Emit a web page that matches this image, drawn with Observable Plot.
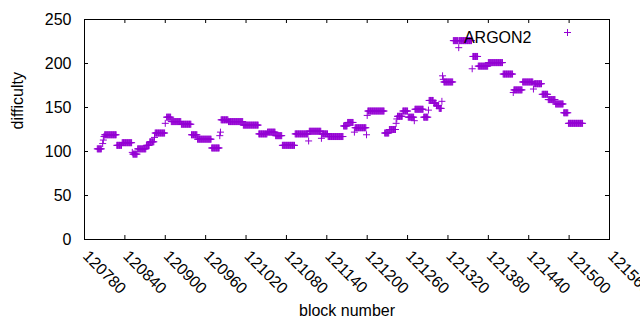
<!DOCTYPE html>
<html><head><meta charset="utf-8">
<script src="https://cdn.jsdelivr.net/npm/d3@7"></script>
<script src="https://cdn.jsdelivr.net/npm/@observablehq/plot@0.6"></script>
<style>html,body{margin:0;padding:0;background:#fff;}</style>
</head><body><div id="chart"></div>
<script>
// runs of constant difficulty: first block, last block, value
const runStart = [120799,120807,120808,120809,120810,120828,120836,120851,120852,120859,120872,120877,120884,120885,120900,120902,120909,120924,120939,120948,120969,120981,120982,120983,120994,121016,121039,121052,121064,121074,121093,121113,121114,121132,121133,121142,121165,121171,121181,121182,121199,121200,121201,121226,121233,121243,121244,121245,121253,121261,121270,121271,121284,121291,121292,121299,121303,121307,121311,121312,121313,121314,121328,121336,121337,121356,121357,121365,121380,121402,121417,121418,121431,121447,121448,121460,121469,121480,121492,121499];
const runEnd   = [120805,120807,120808,120809,120827,120835,120850,120851,120858,120871,120876,120883,120884,120899,120900,120908,120923,120938,120947,120968,120980,120981,120982,120993,121015,121038,121051,121063,121073,121092,121112,121113,121131,121132,121141,121164,121170,121179,121181,121198,121199,121200,121225,121232,121242,121243,121244,121252,121260,121269,121270,121283,121290,121291,121298,121302,121306,121310,121311,121312,121313,121327,121335,121336,121355,121356,121364,121379,121401,121416,121417,121430,121446,121447,121459,121468,121479,121491,121498,121520];
const runValue = [103,109,113,117,119,107,110,99,97,103,107,111,116,121,132,139,134,131,119,114,104,118,122,136,134,130,120,122,118,107,120,112,123,115,120,117,129,133,122,127,119,141,146,121,125,132,137,140,146,139,135,148,139,147,158,155,152,149,157,186,182,179,226,218,226,194,208,197,201,188,167,170,179,171,177,165,159,154,144,132];

const xTicks = [120780,120840,120900,120960,121020,121080,121140,121200,121260,121320,121380,121440,121500,121560];
const yTicks = [0,50,100,150,200,250];
const seriesName = "ARGON2";
const xLabel = "block number";
const yLabel = "difficulty";
const color = "#9400D3";

const data = [];
runStart.forEach((s, i) => {
  for (let b = s; b <= runEnd[i]; b++) data.push({block: b, difficulty: runValue[i]});
});

const thinPlus = {
  draw(ctx, size) {
    const h = Math.sqrt(size / Math.PI);
    ctx.moveTo(-h, 0); ctx.lineTo(h, 0);
    ctx.moveTo(0, -h); ctx.lineTo(0, h);
  }
};

const W = 640, H = 330, mL = 84, mR = 31, mT = 19, mB = 91;
const pw = W - mL - mR, ph = H - mT - mB, tk = 4;

const chart = Plot.plot({
  width: W, height: H,
  marginLeft: mL, marginRight: mR, marginTop: mT, marginBottom: mB,
  style: {fontFamily: "'Liberation Sans', Arial, sans-serif", fontSize: "16px", background: "#fff", color: "#000"},
  x: {domain: [120780, 121560], axis: null},
  y: {domain: [0, 250], axis: null},
  marks: [
    Plot.frame({stroke: "black", strokeWidth: 1}),
    Plot.tickX(xTicks, {x: d => d, insetTop: ph - tk, stroke: "black"}),
    Plot.tickX(xTicks, {x: d => d, insetBottom: ph - tk, stroke: "black"}),
    Plot.tickY(yTicks, {y: d => d, insetRight: pw - tk, stroke: "black"}),
    Plot.tickY(yTicks, {y: d => d, insetLeft: pw - tk, stroke: "black"}),
    Plot.axisY(yTicks, {tickSize: 0, tickPadding: 13, label: null, fontSize: 16}),
    Plot.text(xTicks, {x: d => d, text: d => String(d), frameAnchor: "bottom", rotate: 45, textAnchor: "start", lineAnchor: "middle", dy: 14, dx: 1, fontSize: 16}),
    Plot.text([xLabel], {text: d => d, frameAnchor: "bottom", dy: 76, fontSize: 16}),
    Plot.text([yLabel], {text: d => d, frameAnchor: "left", dx: -67, rotate: -90, fontSize: 16}),
    Plot.dot(data, {x: "block", y: "difficulty", symbol: thinPlus, r: 3.5, stroke: color, fill: "none", strokeWidth: 1}),
    Plot.text([seriesName], {text: d => d, frameAnchor: "top-right", dx: -78, dy: 12.5, textAnchor: "end", fontSize: 16}),
    Plot.dot([seriesName], {frameAnchor: "top-right", dx: -42, dy: 13, symbol: thinPlus, r: 3.5, stroke: color, fill: "none", strokeWidth: 1})
  ]
});
document.getElementById("chart").appendChild(chart);
</script>
</body></html>
